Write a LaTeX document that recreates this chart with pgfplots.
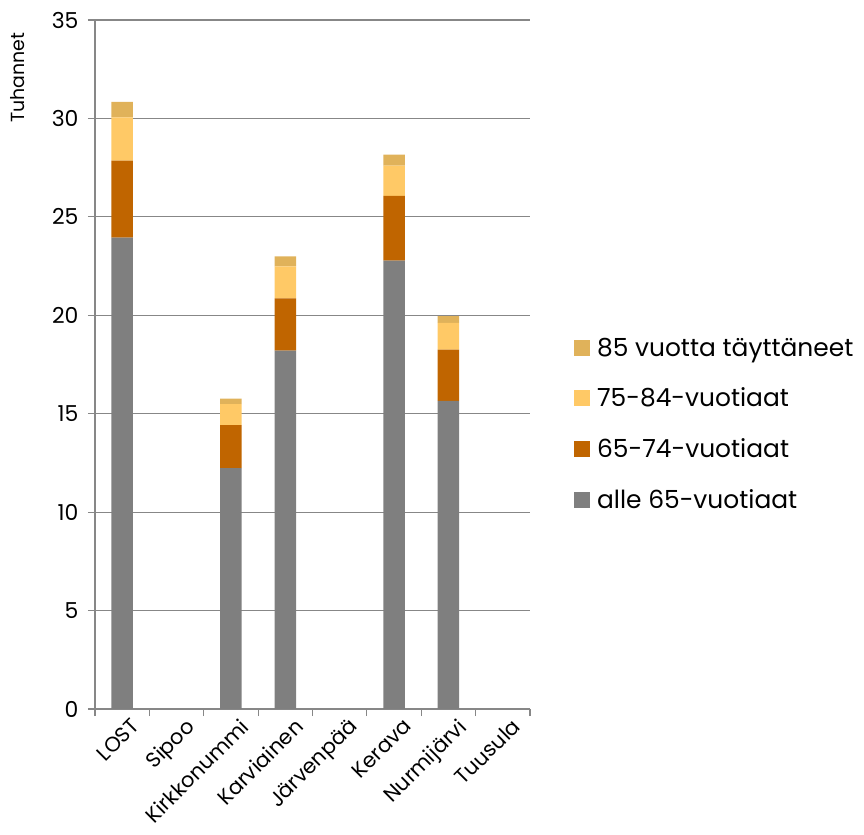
\documentclass[border=0pt]{standalone}
\usepackage{pgfplots}
\pgfplotsset{compat=1.18}
\usepackage{fontspec}
\setmainfont{Poppins}
\definecolor{cgray}{HTML}{7F7F7F}
\definecolor{corange}{HTML}{C06500}
\definecolor{cyellow}{HTML}{FFC966}
\definecolor{cdark}{HTML}{E0B25A}
\definecolor{gridc}{HTML}{878787}
\begin{document}
\begin{tikzpicture}
\path[use as bounding box] (0,0) rectangle (864bp,835bp);
\begin{axis}[
  at={(95bp,126bp)}, anchor=south west, scale only axis,
  width=435bp, height=689bp,
  ybar stacked, bar width=21.5bp,
  xmin=-0.5, xmax=7.5, ymin=0, ymax=35,
  xtick={0,...,7},
  xticklabels={LOST,Sipoo,Kirkkonummi,Karviainen,Järvenpää,Kerava,Nurmijärvi,Tuusula},
  minor xtick={-0.5,0.5,...,7.5},
  ytick={0,5,...,35},
  axis x line*=bottom, axis y line*=left,
  axis line style={draw=gridc, line width=1.2bp},
  ymajorgrids, grid style={draw=gridc, line width=1.2bp},
  tick align=outside, major tick length=7bp, minor tick length=7bp,
  tick style={draw=gridc, line width=1.2bp},
  major x tick style={draw=none},
  /pgf/number format/assume math mode=true,
  tick label style={font=\fontsize{22}{26}\selectfont},
  yticklabel style={xshift=-6bp},
  xticklabel style={xshift=8bp, yshift=2bp, rotate=45, anchor=north east, inner sep=2bp, font=\fontsize{21}{25}\selectfont},
  ylabel={Tuhannet},
  ylabel style={at={(rel axis cs:-0.177,0.916)}, anchor=center, font=\fontsize{19}{22}\selectfont},
  legend image code/.code={\draw[#1,draw=none] (0bp,-8bp) rectangle (16bp,8bp);},
  reverse legend,
  legend style={at={(1.101,0.542)}, anchor=north west, draw=none, fill=none,
    font=\fontsize{25}{29}\selectfont, row sep=26.5bp, column sep=5bp, inner sep=0pt,
    cells={anchor=west}},
]
\addplot[fill=cgray, draw=none] coordinates {(0,23.95) (1,0) (2,12.23) (3,18.21) (4,0) (5,22.78) (6,15.65) (7,0)};
\addplot[fill=corange, draw=none] coordinates {(0,3.91) (1,0) (2,2.19) (3,2.65) (4,0) (5,3.28) (6,2.61) (7,0)};
\addplot[fill=cyellow, draw=none] coordinates {(0,2.19) (1,0) (2,1.07) (3,1.62) (4,0) (5,1.54) (6,1.36) (7,0)};
\addplot[fill=cdark, draw=none] coordinates {(0,0.79) (1,0) (2,0.27) (3,0.51) (4,0) (5,0.56) (6,0.34) (7,0)};
\legend{alle 65-vuotiaat,65-74-vuotiaat,75-84-vuotiaat,85 vuotta täyttäneet}
\end{axis}
\end{tikzpicture}
\end{document}
